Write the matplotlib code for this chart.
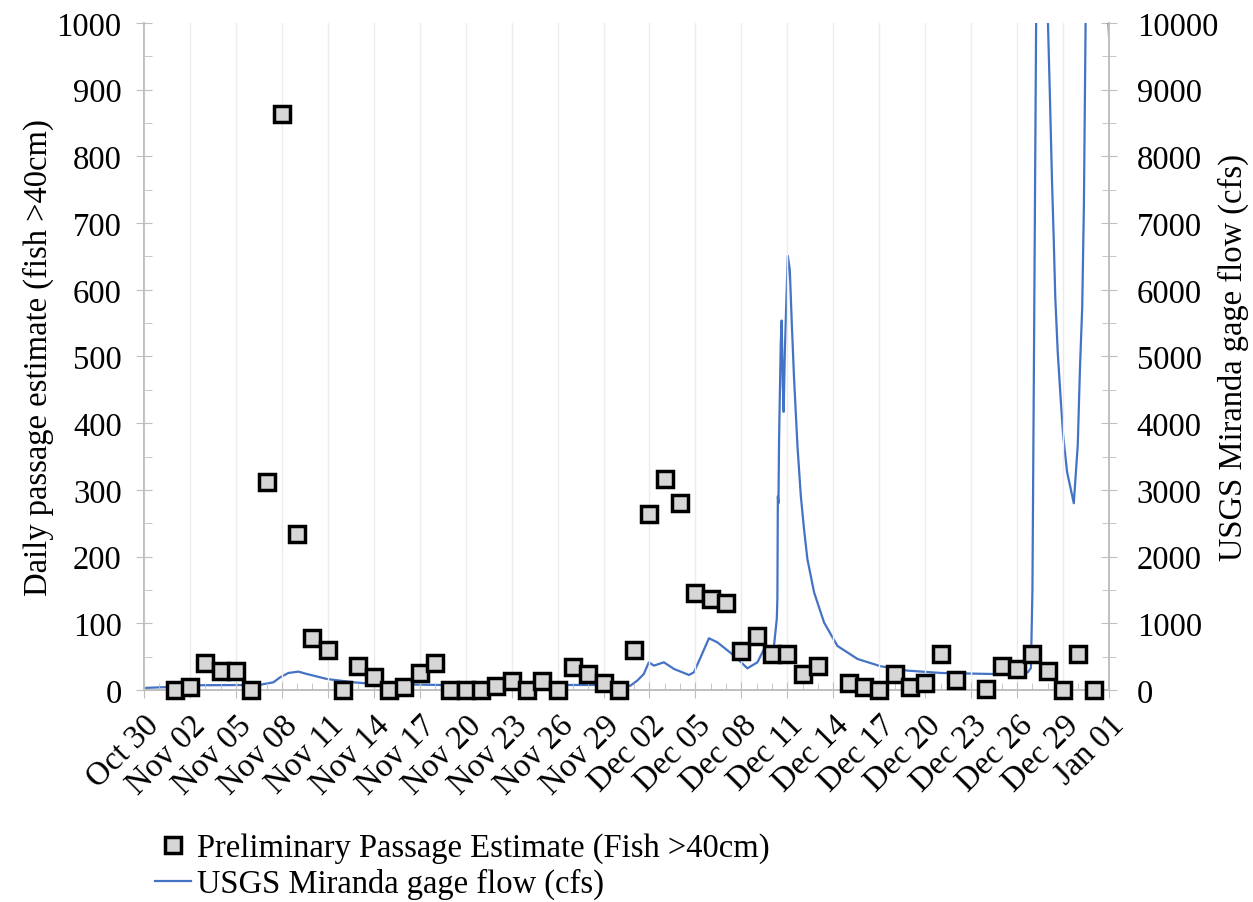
import matplotlib.pyplot as plt
from matplotlib.lines import Line2D
from matplotlib.ticker import MultipleLocator

plt.rcParams['font.family'] = ['Liberation Serif', 'DejaVu Serif']

# x positions are days since Oct 30
tick_days = list(range(0, 64, 3))
tick_labels = ['Oct 30', 'Nov 02', 'Nov 05', 'Nov 08', 'Nov 11', 'Nov 14', 'Nov 17',
               'Nov 20', 'Nov 23', 'Nov 26', 'Nov 29', 'Dec 02', 'Dec 05', 'Dec 08',
               'Dec 11', 'Dec 14', 'Dec 17', 'Dec 20', 'Dec 23', 'Dec 26', 'Dec 29', 'Jan 01']

# daily passage estimate (Nov 01 .. Dec 31, Dec 14 and Dec 23 missing)
fish_days = [2, 3, 4, 5, 6, 7, 8, 9, 10, 11, 12, 13, 14, 15, 16, 17, 18, 19, 20, 21,
             22, 23, 24, 25, 26, 27, 28, 29, 30, 31, 32, 33, 34, 35, 36, 37, 38, 39, 40,
             41, 42, 43, 44, 46, 47, 48, 49, 50, 51, 52, 53, 55, 56, 57, 58, 59, 60, 61, 62]
fish_count = [0, 5, 40, 29, 29, 0, 312, 864, 234, 78, 60, 0, 36, 19, 0, 5, 25, 40, 0, 0,
              0, 6, 14, 0, 14, 0, 35, 24, 11, 0, 60, 264, 317, 281, 146, 137, 131, 59, 81,
              54, 54, 24, 36, 11, 4, 0, 24, 4, 11, 54, 15, 2, 36, 31, 54, 29, 0, 54, 0]

# USGS Miranda gage flow (cfs)
flow_days = [0, 1.05, 1.9, 2.55, 7.5, 8.45, 8.89, 9.43, 10.08, 10.63, 11.94, 13.68, 14.99,
             19.35, 25.0, 30.24, 31.76, 32.2, 32.63, 32.96, 33.29, 33.94, 34.6, 35.58, 35.9,
             36.34, 36.88, 37.43, 38.52, 39.39, 40.05, 40.48, 40.8, 41.13, 41.31, 41.35,
             41.38, 41.42, 41.46, 41.57, 41.63, 41.7, 41.76, 41.83, 41.93, 42.03, 42.16,
             42.29, 42.44, 42.66, 42.88, 43.09, 43.31, 43.75, 44.4, 45.27, 46.58, 48.1,
             49.85, 52.03, 55.29, 57.7, 57.9, 58.0, 58.1, 58.24, 58.6, 58.99, 59.15, 59.27,
             59.39, 59.49, 59.65, 59.82, 60.0, 60.26, 60.7, 60.96, 61.1, 61.25, 61.36,
             61.47, 62.2, 63.0]
flow_cfs = [30, 40, 45, 70, 75, 115, 190, 255, 275, 240, 165, 115, 90,
            75, 75, 75, 65, 140, 240, 415, 365, 415, 315, 225, 265,
            490, 775, 715, 515, 325, 415, 615, 540, 665, 1065, 1365,
            2900, 2800, 3760, 5200, 5540, 4600, 4170, 5000, 5800, 6510, 6300,
            5500, 4660, 3660, 2910, 2410, 1960, 1460, 1010, 660, 465, 355,
            290, 255, 240, 265, 330, 1500, 5000, 10000, 13000, 10200, 8820, 7690,
            6760, 5890, 5070, 4450, 3830, 3270, 2800, 3680, 4810, 5740, 7280,
            10000, 14000, 9800]

fs = 23.5
fig = plt.figure(figsize=(12.53, 9.03), dpi=100)
ax = fig.add_axes([0.1149, 0.2348, 0.7702, 0.7386])
ax2 = ax.twinx()

grey = '#bfbfbf'
blue = '#4472C4'
fill = '#d6d6d6'

ax2.plot(flow_days, flow_cfs, color=blue, lw=1.6)
ax.plot(fish_days, fish_count, 's', ms=11, mfc=fill, mec='black', mew=2.5,
        clip_on=False, zorder=5)

# markers drawn above the flow line
ax.set_zorder(ax2.get_zorder() + 1)
ax.patch.set_visible(False)

ax.set_xlim(0, 63)
ax.set_ylim(0, 1000)
ax2.set_ylim(0, 10000)

ax.set_xticks(tick_days)
ax.set_xticklabels(tick_labels, rotation=45, ha='right', rotation_mode='anchor',
                   fontsize=fs)
ax.xaxis.set_minor_locator(MultipleLocator(1))
ax.tick_params(axis='x', which='major', direction='inout', length=12, color=grey, pad=8)
ax.tick_params(axis='x', which='minor', direction='in', length=5, color=grey)
ax.grid(axis='x', which='major', color='#ececec', lw=1)

ax.yaxis.set_major_locator(MultipleLocator(100))
ax.yaxis.set_minor_locator(MultipleLocator(50))
ax.tick_params(axis='y', which='major', direction='inout', length=12, color=grey,
               labelsize=fs, pad=10)
ax.tick_params(axis='y', which='minor', direction='in', length=6, color=grey)

ax2.yaxis.set_major_locator(MultipleLocator(1000))
ax2.yaxis.set_minor_locator(MultipleLocator(500))
ax2.tick_params(axis='y', which='major', direction='inout', length=12, color=grey,
                labelsize=fs, pad=14)
ax2.tick_params(axis='y', which='minor', direction='inout', length=10, color=grey)

for a in (ax, ax2):
    a.spines['top'].set_visible(False)
    for s in ('left', 'right', 'bottom'):
        a.spines[s].set_color(grey)
        a.spines[s].set_linewidth(1.2)

ax.set_ylabel('Daily passage estimate (fish >40cm)', fontsize=fs, labelpad=2)
ax2.set_ylabel('USGS Miranda gage flow (cfs)', fontsize=fs, labelpad=0)

handles = [Line2D([], [], ls='none', marker='s', ms=11, mfc=fill, mec='black', mew=2.5),
           Line2D([], [], color=blue, lw=1.6)]
fig.legend(handles, ['Preliminary Passage Estimate (Fish >40cm)', 'USGS Miranda gage flow (cfs)'],
           loc='upper left', bbox_to_anchor=(0.1234, 0.077), frameon=False, fontsize=fs,
           handlelength=1.1, handletextpad=0.2, labelspacing=0.15, borderaxespad=0,
           borderpad=0)

fig.savefig('out.png', dpi=100)
